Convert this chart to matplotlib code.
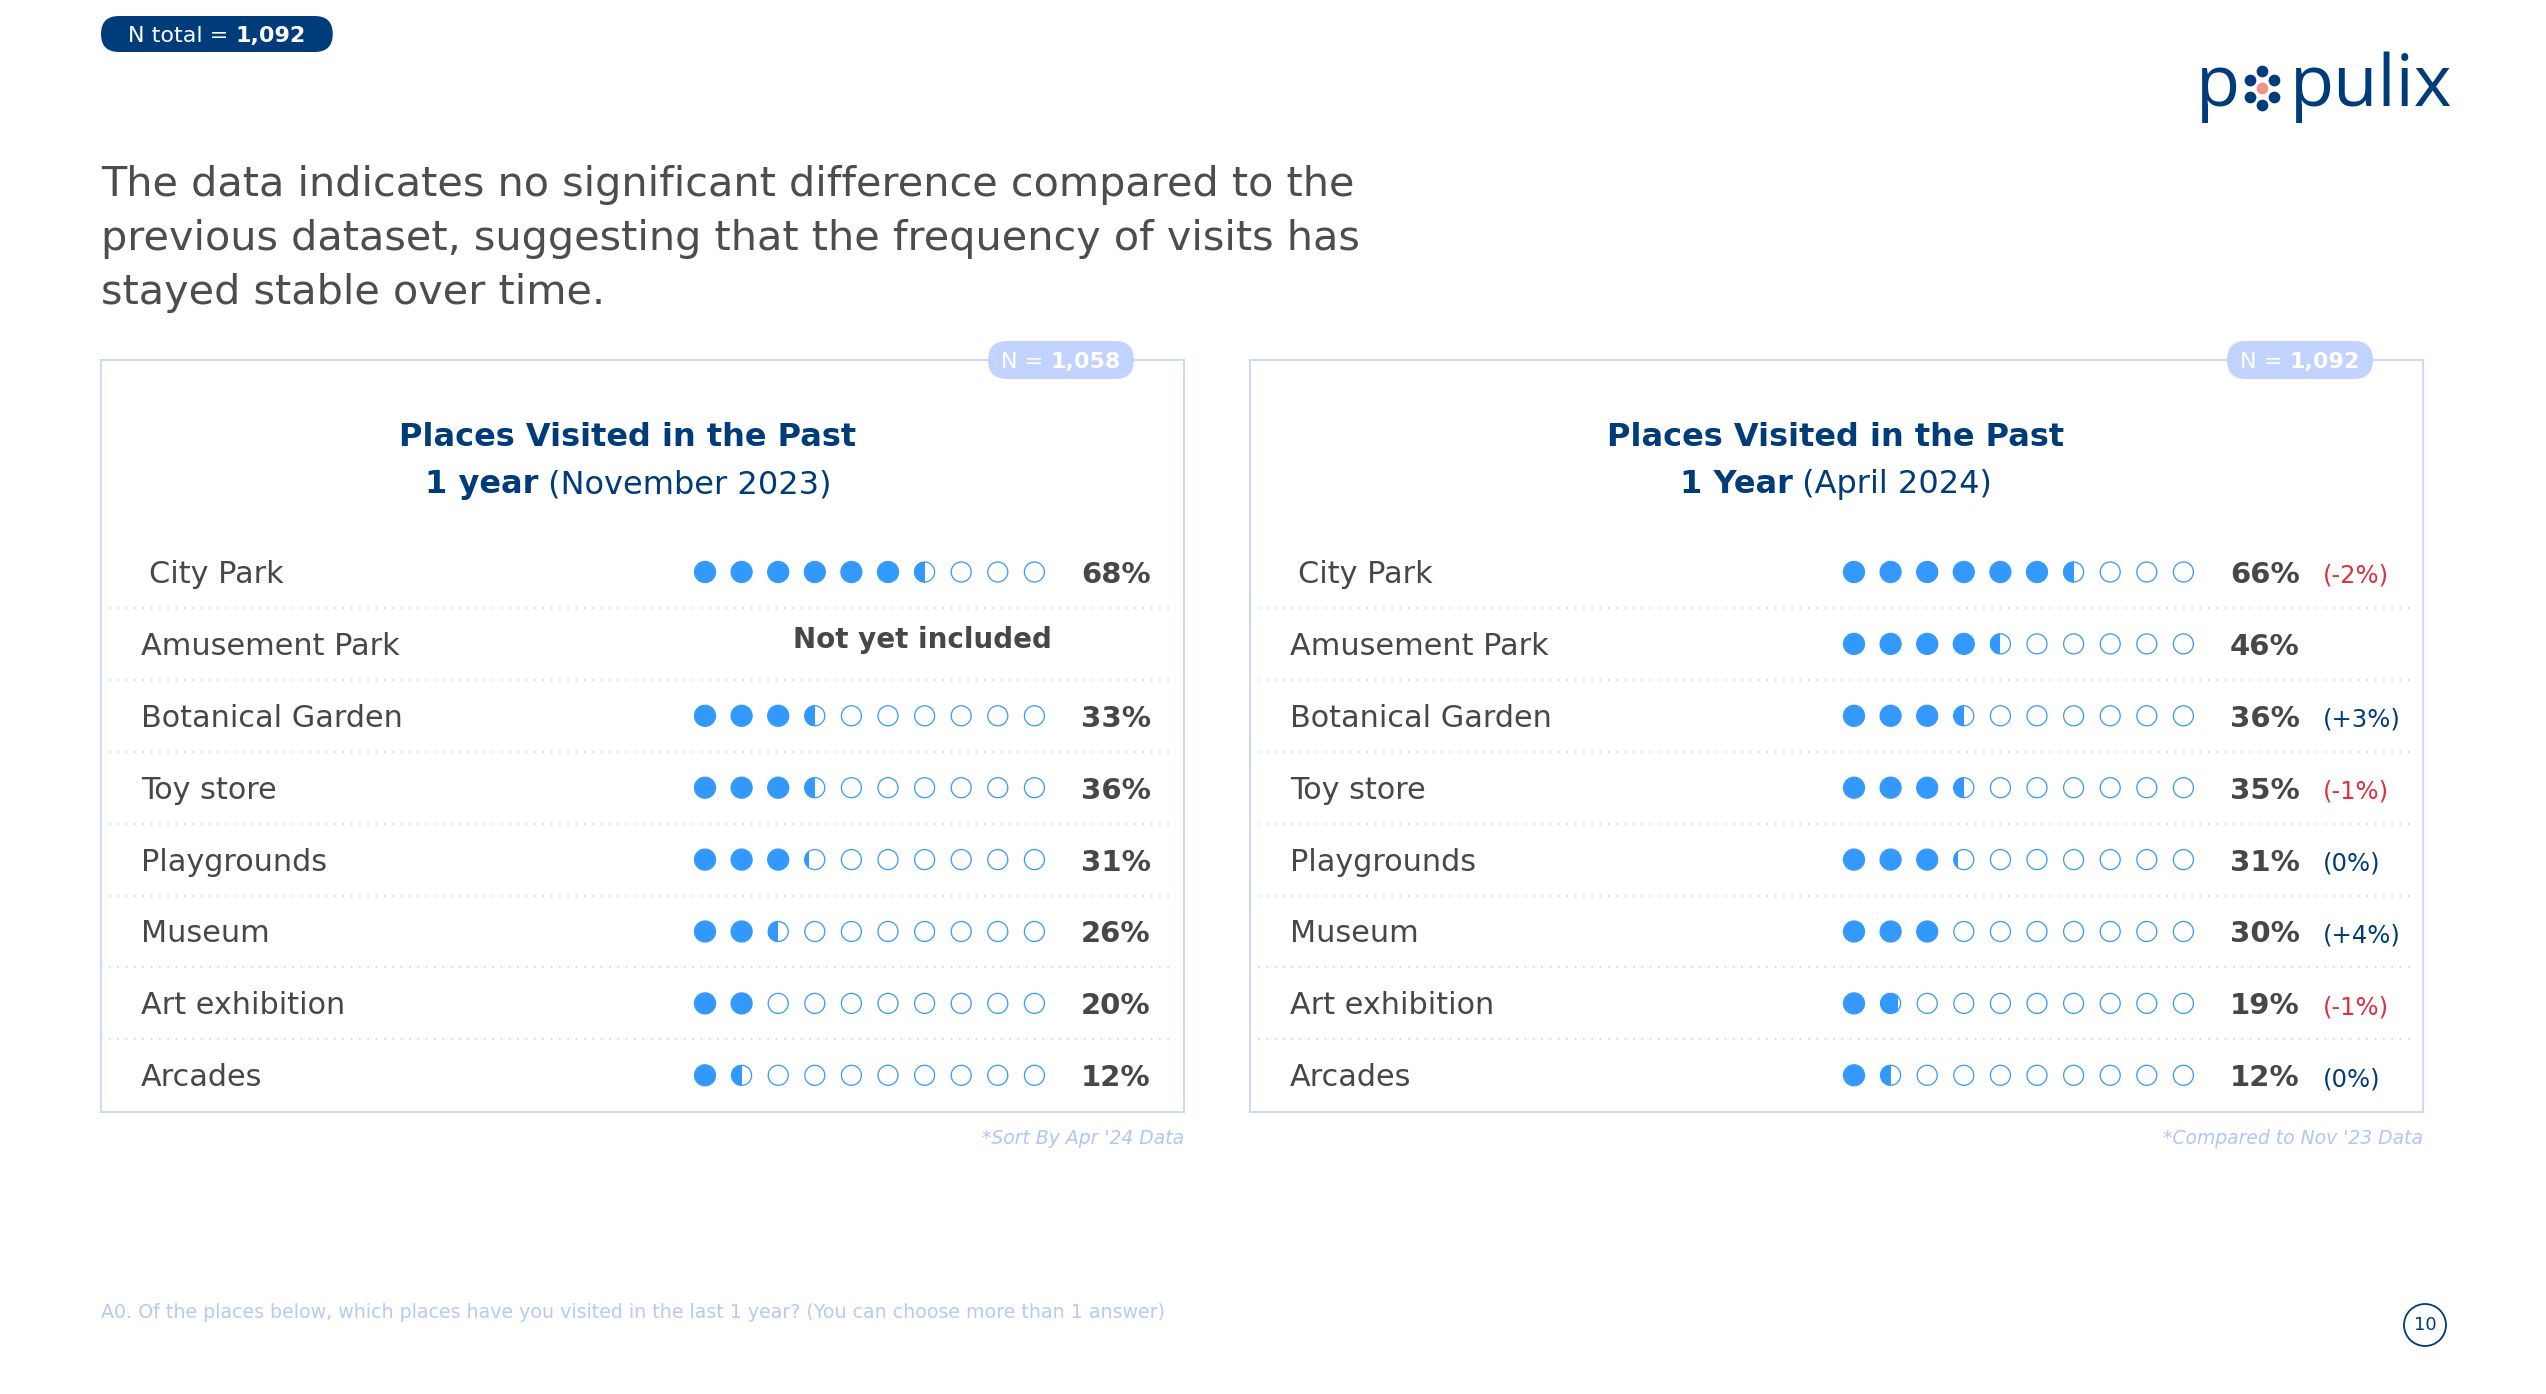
import matplotlib
matplotlib.use("Agg")
import matplotlib.pyplot as plt
from matplotlib.patches import Circle, Rectangle, FancyBboxPatch
import numpy as np

W, H = 2546, 1394
plt.rcParams['font.family'] = ['DejaVu Sans']

# data
places = ["City Park", "Amusement Park", "Botanical Garden", "Toy store",
          "Playgrounds", "Museum", "Art exhibition", "Arcades"]
nov23 = [68, None, 33, 36, 31, 26, 20, 12]
apr24 = [66, 46, 36, 35, 31, 30, 19, 12]
change = [-2, None, 3, -1, 0, 4, -1, 0]
n_nov23 = "1,058"
n_apr24 = "1,092"
n_total = "1,092"
headline = ["The data indicates no significant difference compared to the",
            "previous dataset, suggesting that the frequency of visits has",
            "stayed stable over time."]
question = ("A0. Of the places below, which places have you visited in the last 1 year? "
            "(You can choose more than 1 answer)")

NAVY = "#003b7a"
DOT = "#3399ff"
GREY = "#474747"
LIGHT = "#c6d6fb"
RED = "#e0303e"

fig = plt.figure(figsize=(W / 100, H / 100), dpi=100)
renderer = fig.canvas.get_renderer()

bg = fig.add_axes([0, 0, 1, 1])
bg.set_xlim(0, W)
bg.set_ylim(H, 0)
bg.axis('off')


def text_width(ax, s, **kw):
    # width in px, trailing spaces included
    t = ax.text(0, 0, s + "|", **kw)
    t2 = ax.text(0, 0, "|", **kw)
    w = t.get_window_extent(renderer).width - t2.get_window_extent(renderer).width
    t.remove()
    t2.remove()
    return w


def rich(ax, x, y, parts, ha='left', va='baseline', **kw):
    widths = [text_width(ax, s, **{**kw, **p}) for s, p in parts]
    total = sum(widths)
    start = {'left': x, 'center': x - total / 2, 'right': x - total}[ha]
    for (s, p), w in zip(parts, widths):
        ax.text(start, y, s, ha='left', va=va, **{**kw, **p})
        start += w
    return total


# N total pill
fs = 16
pw = text_width(bg, "N total = ", fontsize=fs) + text_width(bg, n_total, fontsize=fs, fontweight='bold') + 54
bg.add_patch(FancyBboxPatch((101, 16), pw, 36, boxstyle="round,pad=0,rounding_size=18",
                            fc=NAVY, ec='none'))
rich(bg, 101 + pw / 2, 42, [("N total = ", {}), (n_total, {'fontweight': 'bold'})],
     ha='center', fontsize=fs, color='white')

# logo
bg.text(2196, 106, "p", fontsize=52, color=NAVY, va='baseline', family='Open Sans')
ang = np.deg2rad(np.arange(90, 450, 60))
bg.scatter(2262 + 14 * np.cos(ang), 88 - 17 * np.sin(ang), s=55, color=NAVY, zorder=3)
bg.scatter([2262], [88], s=55, color="#f0948a", zorder=3)
bg.text(2290, 106, "pulix", fontsize=52, color=NAVY, va='baseline', family='Open Sans')

# headline
for i, line in enumerate(headline):
    bg.text(101, 196 + i * 54, line, fontsize=29.8, color="#4d4d4d", va='baseline')

# question + page number
bg.text(101, 1313, question, fontsize=13.7, color="#b8c9f8", va='center')
bg.add_patch(Circle((2425, 1325), 21, fc='none', ec=NAVY, lw=1.3))
bg.text(2425, 1325, "10", fontsize=13, color=NAVY, ha='center', va='center')


def panel(L, R, T, B, values, n_text, title2, title_x, deltas, foot):
    w, h = R - L, B - T
    ax = fig.add_axes([L / W, 1 - B / H, w / W, h / H])
    ax.set_xlim(0, w)
    ax.set_ylim(h, 0)
    ax.set_xticks([])
    ax.set_yticks([])
    ax.patch.set_alpha(0)
    for s in ax.spines.values():
        s.set_color(LIGHT)
        s.set_linewidth(1.3)

    # title
    ax.text(title_x, 86, "Places Visited in the Past", fontsize=23, fontweight='bold',
            color=NAVY, ha='center', va='baseline')
    rich(ax, title_x, 133, [(title2[0], {'fontweight': 'bold'}), (title2[1], {})],
         ha='center', fontsize=23, color=NAVY)

    # N pill on the top border
    cx = w - 123
    ax.add_patch(FancyBboxPatch((cx - 73, -19), 146, 38, boxstyle="round,pad=0,rounding_size=19",
                                fc="#c2d3ff", ec='none', clip_on=False, zorder=5))
    rich(ax, cx, 8, [("N = ", {}), (n_text, {'fontweight': 'bold'})], ha='center',
         fontsize=16, color='white', zorder=6, clip_on=False)

    row0, step = 212, 71.9
    dot0, dstep, r = 604, 36.6, 10.5
    for i, name in enumerate(places):
        y = row0 + i * step
        ax.text(48 if i == 0 else 40, y + 11, name, fontsize=21.8, color=GREY, va='baseline')
        if i < len(places) - 1:
            ax.plot([8, w - 8], [y + step / 2] * 2, color=LIGHT, lw=1.2,
                    linestyle=(0, (1, 4)))
        v = values[i]
        if v is None:
            ax.text(821, y + 4, "Not yet included", fontsize=20, fontweight='bold',
                    color=GREY, ha='center', va='baseline')
            continue
        for j in range(10):
            x = dot0 + j * dstep
            frac = min(max(v / 10 - j, 0), 1)
            if frac >= 1:
                ax.add_patch(Circle((x, y), r, fc=DOT, ec=DOT, lw=0.9))
                continue
            ax.add_patch(Circle((x, y), r - 0.5, fc='white', ec=DOT, lw=0.9))
            if frac > 0:
                shown = 0.2 if frac < 0.15 else (0.85 if frac >= 0.85 else 0.5)
                c = Circle((x, y), r, fc=DOT, ec='none')
                ax.add_patch(c)
                clip = Rectangle((x - r, y - r), 2 * r * shown, 2 * r, transform=ax.transData)
                c.set_clip_path(clip)
        ax.text(980, y + 11, f"{v}%", fontsize=21, fontweight='bold', color=GREY, va='baseline')
        if deltas is not None and deltas[i] is not None:
            d = deltas[i]
            s = f"({d:+d}%)" if d != 0 else "(0%)"
            ax.text(1073, y + 11, s, fontsize=17.5, color=RED if d < 0 else NAVY, va='baseline')

    ax.text(w, h + 27, foot, fontsize=13.5, style='italic', color="#b3c5f8",
            ha='right', va='center', clip_on=False)
    return ax


panel(101, 1184, 360, 1112, nov23, n_nov23, ("1 year", " (November 2023)"), 527, None,
      "*Sort By Apr '24 Data")
panel(1250, 2423, 360, 1112, apr24, n_apr24, ("1 Year", " (April 2024)"), 586, change,
      "*Compared to Nov '23 Data")

fig.savefig("out.png", dpi=100, facecolor='white')
